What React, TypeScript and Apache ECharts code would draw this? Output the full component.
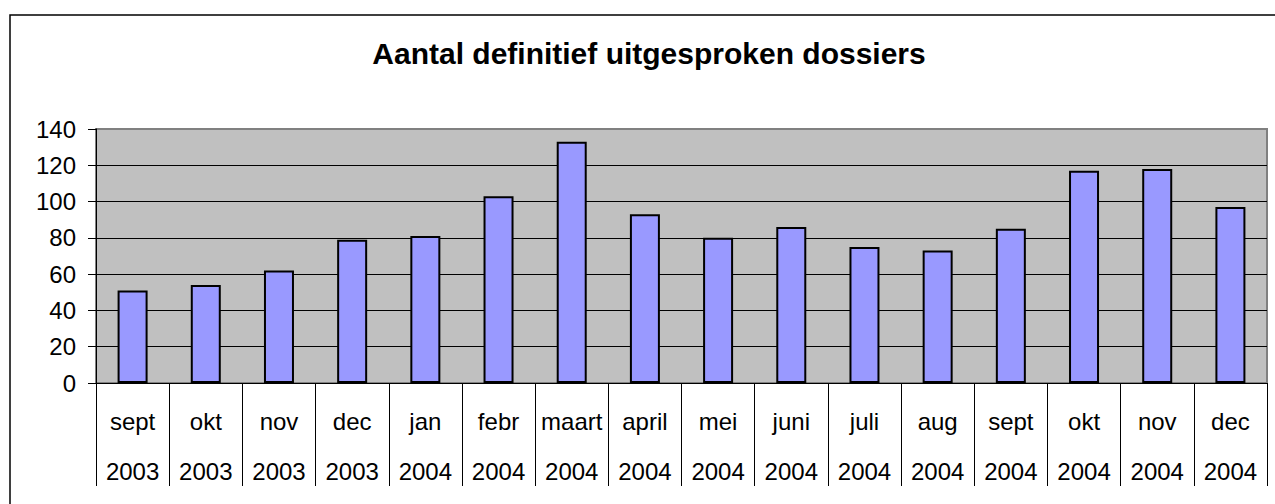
import React, { useEffect, useRef } from "react";
import * as echarts from "echarts";

const months = ["sept", "okt", "nov", "dec", "jan", "febr", "maart", "april", "mei", "juni", "juli", "aug", "sept", "okt", "nov", "dec"];
const years = ["2003", "2003", "2003", "2003", "2004", "2004", "2004", "2004", "2004", "2004", "2004", "2004", "2004", "2004", "2004", "2004"];
const values = [51, 54, 62, 79, 81, 103, 133, 93, 80, 86, 75, 73, 85, 117, 118, 97];
const titleText = "Aantal definitief uitgesproken dossiers";

const FONT = "Liberation Sans, Arial, sans-serif";

export default function App() {
  const ref = useRef<HTMLDivElement>(null);
  useEffect(() => {
    if (!ref.current) return;
    const chart = echarts.init(ref.current, undefined, { renderer: "svg" });
    const categories = months.map((m, i) => m + "\n" + years[i]);
    chart.setOption({
      animation: false,
      backgroundColor: "#ffffff",
      title: {
        text: titleText,
        left: 644,
        top: 33,
        textAlign: "center",
        textStyle: { fontFamily: FONT, fontSize: 30, fontWeight: "bold", color: "#000" },
      },
      graphic: [
        {
          type: "rect",
          shape: { x: 10, y: 15, width: 1300, height: 600 },
          style: { fill: "none", stroke: "#000", lineWidth: 1.5 },
          silent: true,
        },
      ],
      grid: {
        left: 96,
        top: 129,
        right: 8,
        bottom: 121,
        show: true,
        backgroundColor: "#C0C0C0",
        borderColor: "#808080",
        borderWidth: 2,
      },
      xAxis: {
        type: "category",
        data: categories,
        boundaryGap: true,
        axisLine: { show: true, lineStyle: { color: "#000", width: 1 } },
        axisTick: { show: true, length: 103, inside: false, lineStyle: { color: "#000", width: 1 } },
        axisLabel: {
          fontFamily: FONT,
          fontSize: 24,
          color: "#000",
          lineHeight: 50,
          margin: 13,
          interval: 0,
        },
        splitLine: { show: false },
      },
      yAxis: {
        type: "value",
        min: 0,
        max: 140,
        interval: 20,
        axisLine: { show: true, lineStyle: { color: "#000", width: 1 } },
        axisTick: { show: true, length: 8, lineStyle: { color: "#000", width: 1 } },
        axisLabel: { fontFamily: FONT, fontSize: 24, color: "#000", margin: 20 },
        splitLine: { show: true, showMaxLine: false, lineStyle: { color: "#000", width: 1 } },
      },
      series: [
        {
          type: "bar",
          data: values,
          barWidth: "41%",
          itemStyle: { color: "#9999FF", borderColor: "#000", borderWidth: 2 },
        },
      ],
    });
    return () => chart.dispose();
  }, []);
  return <div ref={ref} style={{ position: "absolute", left: 0, top: 0, width: 1275, height: 504 }} />;
}
